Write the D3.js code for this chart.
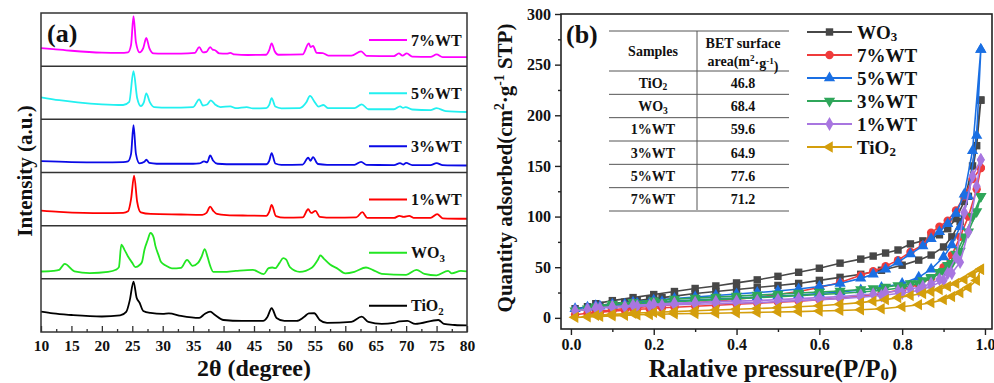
<!DOCTYPE html>
<html>
<head>
<meta charset="utf-8">
<script src="https://cdn.jsdelivr.net/npm/d3@7"></script>
<style>
  body { margin: 0; background: #fff; }
  svg { display: block; }
  text { font-family: "Liberation Serif", "Times New Roman", serif; font-weight: bold; }
</style>
</head>
<body>
<svg></svg>
<script>
// ---- panel (a): XRD patterns, [2theta, intensity in a.u. of its own strip] ----
const xrdNames = ['7%WT', '5%WT', '3%WT', '1%WT', 'WO3', 'TiO2']
const xrdColors = ['#ff00ff', '#22f0f0', '#0a0ae6', '#ff0000', '#22e622', '#000000']

const xrd7 = [[10,34],[12,32],[15,29],[20,25.5],[23,25],[24.3,26],[24.8,40],[25.2,94],[25.6,45],[26.2,26],[26.8,34],[27.3,53],[27.8,34],[28.5,24],[30,23.5],[33,23.5],[35.3,25],[36,36],[36.6,26],[37.2,27],[37.8,36],[38.2,31],[38.6,30],[39.3,24],[40.5,23.5],[41.1,25],[41.8,22],[44,21],[47,21.5],[47.5,30],[47.9,43],[48.4,28],[49,21.5],[53,22],[54,43],[54.3,36],[54.7,38],[55.3,25],[56.3,24.5],[57.2,20],[61,20],[62.6,28],[63.5,19.5],[68,19],[68.8,24],[69.4,20],[70.1,24],[71,18],[74,17.5],[75,22],[76,17],[80,17]]
const xrd5 = [[10,41.5],[13,36],[16,32],[20,28.3],[23.5,27],[24.5,33],[25.2,90.6],[25.8,40],[26.4,25],[26.9,32],[27.3,49],[27.9,32],[28.6,23],[31,22],[35,23],[36,37.7],[36.6,26],[37.3,28],[37.9,35.8],[38.6,28],[39.5,23],[41.1,24.5],[42,21],[43.8,23],[44.8,20.5],[47,21],[47.5,27],[47.9,40],[48.5,24],[49.5,20.8],[52.5,21],[53.6,32],[54.2,44],[55,32],[55.6,24],[56.4,27],[57.2,21],[61.5,21],[62.7,28.3],[63.8,19],[68,19],[69,24.5],[69.5,21.5],[69.9,23],[71,18.5],[74,17.5],[75,21],[76.5,15.5],[80,13.8]]
const xrd3 = [[10,21.3],[15,19.5],[20,18.9],[23.5,19.5],[24.3,21],[24.8,35],[25.2,89.2],[25.6,35],[26.2,17],[27,20],[27.3,24],[27.8,18],[29,16.5],[35,16.5],[36,17],[36.8,21],[37.3,19],[37.8,32],[38.3,22],[39,16.5],[42,15.5],[47,15.5],[47.5,22],[47.9,36.4],[48.5,17],[49.5,14.5],[53,15],[53.9,27.7],[54.3,22],[54.7,29],[55.5,16],[57,14.5],[61.5,14.5],[62.6,20],[63.5,14.2],[68,14],[69,17.5],[69.5,15],[70,18],[71,14],[74,14],[75,17.5],[76,14],[80,13.2]]
const xrd1 = [[10,28.3],[13,26],[17,24],[20,23.5],[23.5,24],[24.3,27],[24.8,50],[25.3,94],[25.8,45],[26.4,25],[28,22],[33,21],[36.5,20.4],[37.2,24],[37.8,35.7],[38.3,28],[38.9,22],[40.5,20],[44,19],[47,18.5],[47.5,26],[47.9,38.9],[48.6,18],[50,15],[53,15.5],[53.9,30.9],[54.4,24],[55.1,27.8],[55.8,16.7],[58,15],[61.8,15.5],[62.8,25.4],[63.6,14.8],[68,14.5],[68.9,18.5],[69.6,16.7],[70.5,18.5],[71.2,14.8],[74,14.5],[75.1,21.7],[76,13.9],[80,13]]
const xrdWO3 = [[10,13.8],[12,15],[13,17],[13.9,28.3],[15.5,14.2],[18,10.8],[21,13],[22.3,17],[22.8,22],[23.2,64.2],[23.7,55],[24.3,42],[25,30],[25.5,22],[26.2,26],[26.6,32],[27,54.7],[27.5,72],[28,86.2],[28.5,78],[28.8,62],[29.3,45],[29.7,32],[30.5,25],[31.5,19.8],[33,20.8],[34,35.8],[34.9,24.5],[35.8,30],[36.4,42],[36.9,56],[37.4,40],[37.8,24.5],[38.3,13.2],[40,13],[42,15],[44.8,17],[46.6,8.9],[47.4,20],[48,21.3],[48.5,20],[49.2,30],[49.8,39],[50.3,36],[50.9,22],[52.5,13.2],[54.5,20.8],[55.5,36],[55.9,44],[56.5,37.7],[57.5,27],[58.6,20.2],[60,10.4],[61.5,13.2],[63.4,21.3],[64.5,17],[66,9.4],[70,7.5],[71.7,17],[73,9.4],[75,6.6],[76.9,15.1],[77.5,10.4],[79,15],[80,14]]
const xrdTiO2 = [[10,38.3],[12,34.9],[15,32],[20,29.2],[23,31.1],[24,37.7],[24.6,60.4],[25.2,94.9],[25.7,65],[26.2,55],[26.8,39.6],[28,35.8],[30,34],[31,34.9],[33,30.2],[36,26.4],[36.9,34],[37.8,38.3],[38.6,32],[40,22.6],[43,20.8],[46.5,20.8],[47.2,28.3],[47.9,44.7],[48.7,26.4],[50,20.8],[52,20.8],[53.2,28],[54,35],[54.9,35.3],[55.8,22.6],[57,17],[61,18.9],[62.7,28.9],[63.8,18.9],[66,15.1],[68,17],[68.9,19.8],[70.2,20.8],[71.5,15.1],[75.3,22.6],[76.2,15.1],[78,13.2],[80,12.3]]
const xrdData = [xrd7, xrd5, xrd3, xrd1, xrdWO3, xrdTiO2]
const xrdTicks = d3.range(10, 81, 5)

// ---- panel (b): N2 isotherms, adsorption then desorption branch ----
const bNames = ['WO3', '7%WT', '5%WT', '3%WT', '1%WT', 'TiO2']
const bColors = ['#474747', '#ef3b3b', '#1a6fe3', '#2fa65a', '#a876e0', '#d49e0c']
const bSymbols = ['square', 'circle', 'up', 'down', 'diamond', 'left']

const pAds = [0.01,0.04,0.07,0.10,0.13,0.16,0.19,0.22,0.25,0.30,0.35,0.40,0.45,0.50,0.55,0.60,0.65,0.70,0.75,0.80,0.84,0.87,0.90,0.92,0.94,0.96,0.98,0.99]
const pDes = [0.99,0.97,0.95,0.93,0.91,0.89,0.87,0.85,0.82,0.79,0.76,0.73,0.70,0.65,0.60,0.55,0.50,0.45,0.40,0.35,0.30,0.25,0.20,0.15,0.10,0.06]

const adsWO3 = [9,11,12.5,14,15.5,17,18.5,20,21.5,24,26,28,30,32,34,37,40,43,47,52,57,62,70,80,95,120,170,215]
const desWO3 = [215,150,115,98,88,82,79,76,73,67,64,61,58,54,49,45,41,37.5,34.5,31.5,29,26,23,20,17,14]
const ads7 = [3,4.5,5.5,6.5,7.5,8.5,9,10,10.5,11.5,12.5,13.5,14.5,15.5,16.5,18,19.5,21.5,24,28,33,39,50,62,80,100,127,148]
const des7 = [148,137,120,106,96,90,84,72,65,57,51,46,42,35,30,26,23,20.5,18.5,16.5,15,13,11.5,10,8,6]
const ads5 = [9,10.5,11.5,12.5,13.5,14.5,15,16,16.5,17.5,18.5,19.5,20.5,21.5,22.5,24,25.5,27.5,30,34,40,48,60,72,90,120,180,265]
const des5 = [265,165,122,103,93,85,78,71,63,55,48,43,39,34,31,28.5,26.5,25,23.5,22,20.5,19,17.5,15.5,13.5,12]
const ads3 = [7,9,10.5,11.5,12.5,13.5,14.5,15,16,17,18,19,20,21,22,23,24,25.5,27,30,34,39,46,54,66,85,105,120]
const des3 = [120,100,80,63,52,45,40,37,34,32,30.5,29,28,26.5,25.5,24.5,23.5,22.5,21.5,20.5,19.5,18.5,17,15.5,13.5,11]
const ads1 = [7,8.5,9.5,10.5,11,11.5,12,12.5,13,13.5,14,14.5,15,16,17,18,19,20.5,22,24.5,27,31,37,44,55,85,130,156]
const des1 = [156,140,104,60,44,38,34,31,28.5,26.5,25,23.5,22.5,21,20,19,18,17,16.5,16,15,14.5,13.5,12.5,11,10]
const adsTiO2 = [0.5,1,1.5,2,2.5,3,3.3,3.6,4,4.3,4.6,5,5.4,5.8,6.2,6.7,7.3,8,9,11,13,15,18,21,25,30,37,48]
const desTiO2 = [48,43,38,34,31,28,26,24,22,20,18,16.5,15,13.5,12,11,10,9.2,8.5,7.8,7,6.2,5.5,4.5,3.5,2.5]
const bAds = [adsWO3, ads7, ads5, ads3, ads1, adsTiO2]
const bDes = [desWO3, des7, des5, des3, des1, desTiO2]

const tableSamples = ['TiO2', 'WO3', '1%WT', '3%WT', '5%WT', '7%WT']
const tableBET = ['46.8', '68.4', '59.6', '64.9', '77.6', '71.2']

// ---------------------------------------------------------------
const svg = d3.select('svg').attr('width', 994).attr('height', 383)
const translate = (x, y) => `translate(${x}, ${y})`

// writes "WO3" / "TiO2" with a subscript digit
const chem = (sel, name, sub = '0.3em') => {
  const m = name.match(/^([A-Za-z]+)(\d)$/)
  if (!m) { sel.text(name); return sel }
  sel.append('tspan').text(m[1])
  sel.append('tspan').attr('font-size', '68%').attr('dy', sub).text(m[2])
  return sel
}

// ======== panel (a) ========
const ax = d3.scaleLinear().domain([10, 80]).range([41, 467])
const band = d3.scaleBand().domain(xrdNames).range([13, 332])
const ga = svg.append('g')

svg.append('clipPath').attr('id', 'clipA')
  .append('rect').attr('x', 41).attr('y', 13).attr('width', 426).attr('height', 319)

xrdNames.forEach((name, i) => {
  const top = band(name), bot = top + band.bandwidth()
  const y = d3.scaleLinear().domain([0, 100]).range([bot, top])
  const line = d3.line().x(d => ax(d[0])).y(d => y(d[1])).curve(d3.curveMonotoneX)
  ga.append('path').datum(xrdData[i])
    .attr('clip-path', 'url(#clipA)')
    .attr('d', line)
    .attr('fill', 'none')
    .attr('stroke', xrdColors[i])
    .attr('stroke-width', 1.8)

  const ly = top + 27
  ga.append('line').attr('x1', 369).attr('x2', 407).attr('y1', ly).attr('y2', ly)
    .attr('stroke', xrdColors[i]).attr('stroke-width', 2)
  chem(ga.append('text').attr('x', 411).attr('y', ly).attr('dy', '0.35em')
    .attr('font-size', 16).attr('fill', '#111'), name)

  if (i > 0) {
    ga.append('line').attr('x1', 41).attr('x2', 467).attr('y1', top).attr('y2', top)
      .attr('stroke', '#333').attr('stroke-width', 1.5)
  }
})

ga.append('rect').attr('x', 41).attr('y', 13).attr('width', 426).attr('height', 319)
  .attr('fill', 'none').attr('stroke', '#333').attr('stroke-width', 1.5)

const axA = ga.append('g').attr('transform', translate(0, 332))
  .call(d3.axisBottom(ax).tickValues(xrdTicks).tickSize(-6).tickPadding(8))
axA.append('g').call(d3.axisBottom(ax).tickValues(d3.range(12.5, 80, 5)).tickSize(-3).tickFormat(''))
axA.selectAll('.domain').remove()
axA.selectAll('line').attr('stroke', '#333').attr('stroke-width', 1.3)
axA.selectAll('text').attr('font-size', 15.5).attr('fill', '#111')

ga.append('text').attr('x', 254).attr('y', 376).attr('text-anchor', 'middle')
  .attr('font-size', 24).attr('fill', '#111').text('2θ (degree)')
ga.append('text').attr('transform', translate(32, 171) + ' rotate(-90)')
  .attr('text-anchor', 'middle').attr('font-size', 21).attr('fill', '#111')
  .text('Intensity (a.u.)')
ga.append('text').attr('x', 47).attr('y', 42).attr('font-size', 26).attr('fill', '#111').text('(a)')

// ======== panel (b) ========
const bx = d3.scaleLinear().domain([-0.024, 1.017]).range([561, 992])
const by = d3.scaleLinear().domain([-11, 300]).range([329, 14])
const gb = svg.append('g')

svg.append('clipPath').attr('id', 'clipB')
  .append('rect').attr('x', 561).attr('y', 14).attr('width', 431).attr('height', 315)

const symbolPath = (kind, size) => {
  const sym = { square: d3.symbolSquare, circle: d3.symbolCircle, up: d3.symbolTriangle,
    down: d3.symbolTriangle, diamond: d3.symbolDiamond, left: d3.symbolTriangle }[kind]
  return d3.symbol().type(sym).size(size)()
}
const symbolRot = kind => ({ down: 180, left: -90 }[kind] || 0)

const plotB = gb.append('g').attr('clip-path', 'url(#clipB)')
bNames.forEach((name, i) => {
  const pts = pAds.map((p, j) => [p, bAds[i][j]]).concat(pDes.map((p, j) => [p, bDes[i][j]]))
  const line = d3.line().x(d => bx(d[0])).y(d => by(d[1]))
  plotB.append('path').datum(pts)
    .attr('d', line)
    .attr('fill', 'none')
    .attr('stroke', bColors[i])
    .attr('stroke-width', 1.6)
  plotB.selectAll(null).data(pts).enter().append('path')
    .attr('d', symbolPath(bSymbols[i], 55))
    .attr('transform', d => translate(bx(d[0]), by(d[1])) + ` rotate(${symbolRot(bSymbols[i])})`)
    .attr('fill', bColors[i])
})

gb.append('rect').attr('x', 561).attr('y', 14).attr('width', 431).attr('height', 315)
  .attr('fill', 'none').attr('stroke', '#222').attr('stroke-width', 1.6)

const axBy = gb.append('g').attr('transform', translate(561, 0))
  .call(d3.axisLeft(by).tickValues(d3.range(0, 301, 50)).tickSize(6).tickPadding(4))
axBy.append('g').call(d3.axisLeft(by).tickValues(d3.range(25, 300, 50)).tickSize(3).tickFormat(''))
const axBx = gb.append('g').attr('transform', translate(0, 329))
  .call(d3.axisBottom(bx).tickValues(d3.range(0, 1.01, 0.2)).tickFormat(d3.format('.1f')).tickSize(6).tickPadding(4))
axBx.append('g').call(d3.axisBottom(bx).tickValues([0.1, 0.3, 0.5, 0.7, 0.9]).tickSize(3).tickFormat(''))
;[axBy, axBx].forEach(a => {
  a.selectAll('.domain').remove()
  a.selectAll('line').attr('stroke', '#222').attr('stroke-width', 1.4)
  a.selectAll('text').attr('font-size', 16).attr('fill', '#111')
})

gb.append('text').attr('x', 773).attr('y', 377).attr('text-anchor', 'middle')
  .attr('font-size', 25).attr('fill', '#111')
  .call(t => {
    t.append('tspan').text('Ralative pressure(P/P')
    t.append('tspan').attr('font-size', '68%').attr('dy', '0.2em').text('0')
    t.append('tspan').attr('dy', '-0.14em').text(')')
  })
gb.append('text').attr('transform', translate(512, 168) + ' rotate(-90)')
  .attr('text-anchor', 'middle').attr('font-size', 21).attr('fill', '#111')
  .call(t => {
    t.append('tspan').text('Quantity adsorbed(cm')
    t.append('tspan').attr('font-size', '65%').attr('dy', '-0.6em').text('2')
    t.append('tspan').attr('dy', '0.4em').text('·g')
    t.append('tspan').attr('font-size', '65%').attr('dy', '-0.6em').text('-1')
    t.append('tspan').attr('dy', '0.4em').text(' STP)')
  })
gb.append('text').attr('x', 566).attr('y', 43).attr('font-size', 26).attr('fill', '#111').text('(b)')

// legend (b)
bNames.forEach((name, i) => {
  const ly = 32 + i * 23
  gb.append('line').attr('x1', 807).attr('x2', 852).attr('y1', ly).attr('y2', ly)
    .attr('stroke', bColors[i]).attr('stroke-width', 2)
  gb.append('path').attr('d', symbolPath(bSymbols[i], 55))
    .attr('transform', translate(829.5, ly) + ` rotate(${symbolRot(bSymbols[i])})`)
    .attr('fill', bColors[i])
  chem(gb.append('text').attr('x', 857).attr('y', ly).attr('dy', '0.35em')
    .attr('font-size', 19).attr('fill', '#111'), name, '0.22em')
})

// BET table
const rowY = d3.scaleBand().domain(tableSamples).range([71, 211])
const tbl = gb.append('g')
const hLines = [31, 71].concat(tableSamples.map(s => rowY(s) + rowY.bandwidth()))
tbl.selectAll('line.h').data(hLines).enter().append('line')
  .attr('x1', 609).attr('x2', 789).attr('y1', d => d).attr('y2', d => d)
  .attr('stroke', '#555').attr('stroke-width', 1)
tbl.append('line').attr('x1', 697).attr('x2', 697).attr('y1', 31).attr('y2', 210)
  .attr('stroke', '#555').attr('stroke-width', 1)
tbl.append('text').attr('x', 653).attr('y', 51).attr('dy', '0.35em').attr('text-anchor', 'middle')
  .attr('font-size', 14).attr('fill', '#111').text('Samples')
tbl.append('text').attr('x', 743).attr('y', 43).attr('dy', '0.35em').attr('text-anchor', 'middle')
  .attr('font-size', 14).attr('fill', '#111').text('BET surface')
tbl.append('text').attr('x', 743).attr('y', 61).attr('dy', '0.35em').attr('text-anchor', 'middle')
  .attr('font-size', 14).attr('fill', '#111')
  .call(t => {
    t.append('tspan').text('area(m')
    t.append('tspan').attr('font-size', '65%').attr('dy', '-0.5em').text('2')
    t.append('tspan').attr('dy', '0.5em').text('·g')
    t.append('tspan').attr('font-size', '65%').attr('dy', '-0.5em').text('-1')
    t.append('tspan').attr('dy', '0.5em').text(')')
  })
tableSamples.forEach((s, i) => {
  const cy = rowY(s) + rowY.bandwidth() / 2
  chem(tbl.append('text').attr('x', 653).attr('y', cy).attr('dy', '0.35em').attr('text-anchor', 'middle')
    .attr('font-size', 14).attr('fill', '#111'), s)
  tbl.append('text').attr('x', 743).attr('y', cy).attr('dy', '0.35em').attr('text-anchor', 'middle')
    .attr('font-size', 14).attr('fill', '#111').text(tableBET[i])
})
</script>
</body>
</html>
